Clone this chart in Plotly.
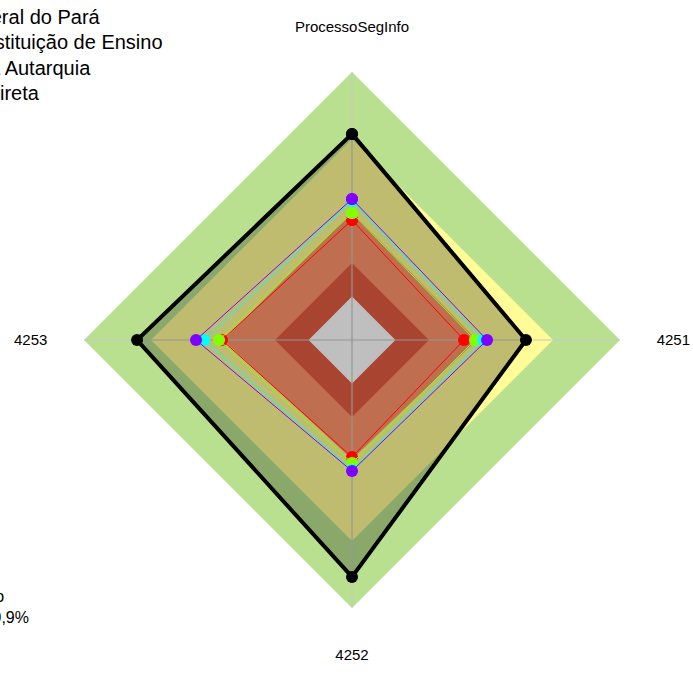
import plotly.graph_objects as go

# ---------------- data ----------------
categories = ["ProcessoSegInfo", "4251", "4252", "4253"]

# background bands (value on each axis)
band_green = [100, 100, 100, 100]
band_yellow = [75, 75, 75, 75]
band_orange = [47.6, 46.5, 44.5, 48.0]
band_red = [28.7, 28.7, 28.7, 28.7]
band_white = [16.2, 16.2, 16.2, 16.2]

# series
serie_org = [76.9, 64.9, 88.4, 80.2]      # black
serie_red = [44.8, 41.8, 43.7, 48.5]
serie_green = [47.4, 45.9, 45.9, 49.6]
serie_cyan = [51.9, 48.9, 48.5, 55.2]
serie_purple = [52.6, 50.4, 48.9, 58.2]

legend_lines = ["Universidade Federal do Pará", "Instituição de Ensino",
                "Natureza jurídica Autarquia", "Administração indireta"]
band_legend_lines = ["Iniciando", "15 a 39,9%"]

# ---------------- figure ----------------
W, H = 693, 675
CX, CY = 352, 340
R100 = 268.0
RMAX = 113.5
RPOL = R100 * RMAX / 100.0


def closed(vals):
    return list(vals) + [vals[0]]


theta_c = closed(categories)
fig = go.Figure()

for vals, col in [(band_green, "#b8e08e"), (band_yellow, "#fffb96"),
                  (band_orange, "#ff956b"), (band_red, "#e15b40"),
                  (band_white, "#ffffff")]:
    fig.add_trace(go.Scatterpolar(r=closed(vals), theta=theta_c, mode="lines",
                                  fill="toself", fillcolor=col,
                                  line=dict(width=0, color=col),
                                  hoverinfo="skip", showlegend=False))

# spokes
for c in categories:
    fig.add_trace(go.Scatterpolar(r=[0, band_green[0]], theta=[c, c], mode="lines",
                                  line=dict(color="#c8c8c8", width=1.2),
                                  hoverinfo="skip", showlegend=False))

fig.add_trace(go.Scatterpolar(r=closed(serie_org), theta=theta_c, mode="lines+markers",
                              fill="toself", fillcolor="rgba(0,0,0,0.25)",
                              line=dict(color="black", width=4),
                              marker=dict(color="black", size=12),
                              name=legend_lines[0], showlegend=False))

for vals, col, nm in [(serie_red, "#ff0000", legend_lines[1]),
                      (serie_green, "#80ff00", legend_lines[2]),
                      (serie_cyan, "#00ffff", legend_lines[3]),
                      (serie_purple, "#8000ff", "Geral")]:
    fig.add_trace(go.Scatterpolar(r=closed(vals), theta=theta_c, mode="lines+markers",
                                  line=dict(color=col, width=1),
                                  marker=dict(color=col, size=12),
                                  name=nm, showlegend=False))

annotations = []
for i, (txt, xr) in enumerate(zip(legend_lines, [103, 165, 93, 42])):
    annotations.append(dict(text=txt, xref="paper", yref="paper",
                            x=xr / W, y=1 - (17 + 25.3 * i) / H,
                            xanchor="right", yanchor="middle", showarrow=False,
                            font=dict(size=20, color="#000", family="Arial, Liberation Sans")))
for i, (txt, xr, yp) in enumerate(zip(band_legend_lines, [6, 31], [596, 617])):
    annotations.append(dict(text=txt, xref="paper", yref="paper",
                            x=xr / W, y=1 - yp / H,
                            xanchor="right", yanchor="middle", showarrow=False,
                            font=dict(size=16, color="#000", family="Arial, Liberation Sans")))

fig.update_layout(
    width=W, height=H,
    margin=dict(l=0, r=0, t=0, b=0),
    paper_bgcolor="white",
    showlegend=False,
    font=dict(family="Arial, Liberation Sans", size=15, color="#000"),
    annotations=annotations,
    polar=dict(
        domain=dict(x=[(CX - RPOL) / W, (CX + RPOL) / W],
                    y=[1 - (CY + RPOL) / H, 1 - (CY - RPOL) / H]),
        bgcolor="rgba(0,0,0,0)",
        gridshape="linear",
        radialaxis=dict(range=[0, RMAX], showgrid=False, showline=False,
                        showticklabels=False, ticks=""),
        angularaxis=dict(type="category", categoryarray=categories,
                         rotation=90, direction="clockwise",
                         showgrid=False, showline=False, ticks="",
                         tickfont=dict(size=15, color="#000")),
    ),
)

fig.write_html("out.html", post_script="document.body.style.margin='0px';",
               config={"displayModeBar": False})
